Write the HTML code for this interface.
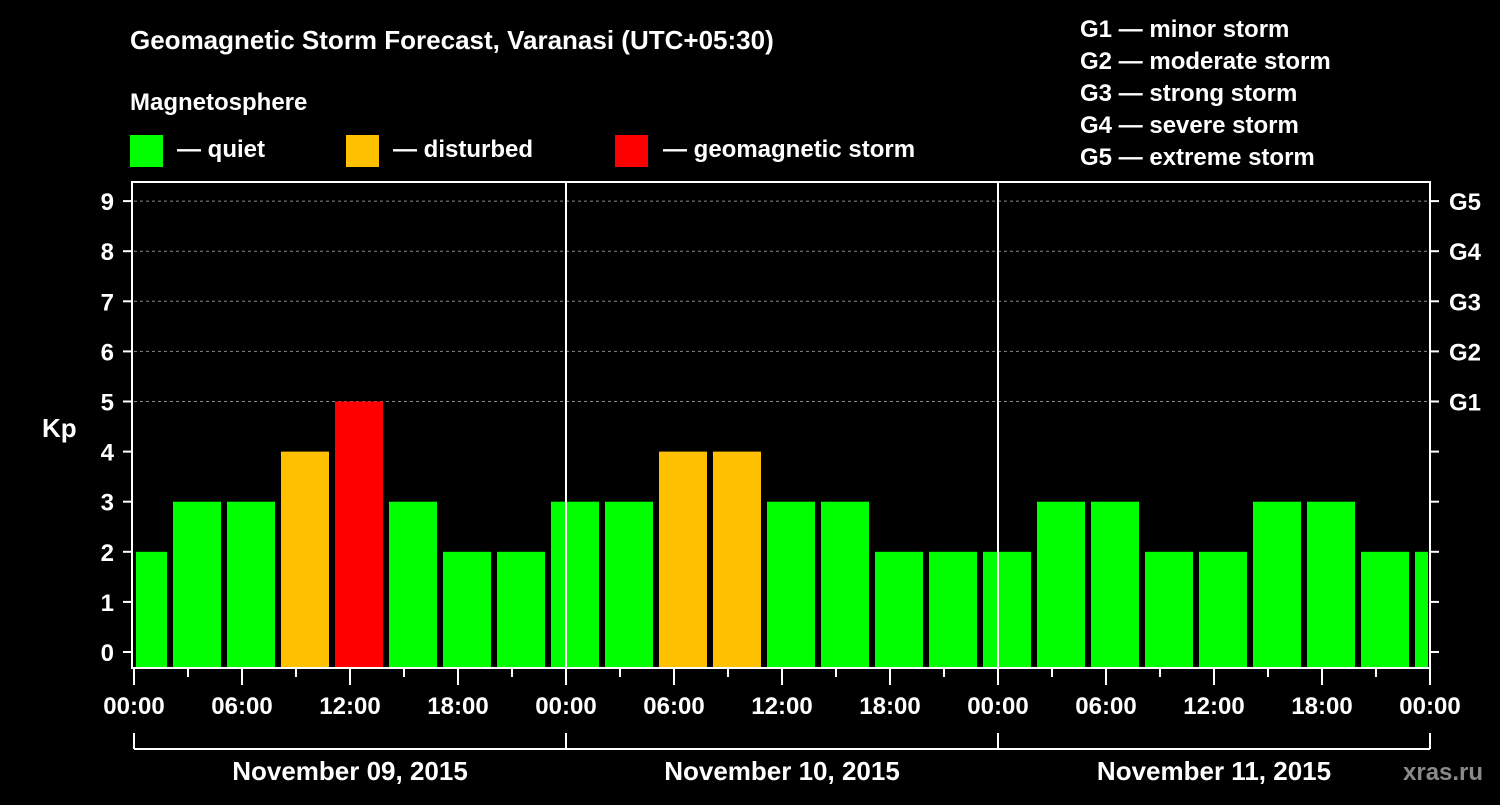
<!DOCTYPE html>
<html><head><meta charset="utf-8"><style>
body{margin:0;background:#000;width:1500px;height:800px;overflow:hidden}
text{font-family:"Liberation Sans",sans-serif;font-weight:bold;fill:#fff}
</style></head><body>
<svg id="c" width="1500" height="800">
<text x="130" y="49" font-size="26">Geomagnetic Storm Forecast, Varanasi (UTC+05:30)</text>
<text x="130" y="110" font-size="24">Magnetosphere</text>
<g><rect x="130" y="135" width="33" height="32" fill="#00ff00"/><text x="177" y="157" font-size="24">— quiet</text></g>
<g><rect x="346" y="135" width="33" height="32" fill="#ffc000"/><text x="393" y="157" font-size="24">— disturbed</text></g>
<g><rect x="615" y="135" width="33" height="32" fill="#ff0000"/><text x="663" y="157" font-size="24">— geomagnetic storm</text></g>
<g font-size="24">
<text x="1080" y="37">G1 — minor storm</text><text x="1080" y="69">G2 — moderate storm</text><text x="1080" y="101">G3 — strong storm</text><text x="1080" y="133">G4 — severe storm</text><text x="1080" y="165">G5 — extreme storm</text></g>
<text x="42" y="437" font-size="26">Kp</text>
<text x="1403" y="780" font-size="24" fill="#888" style="fill:#8a8a8a">xras.ru</text>
<g id="g"></g>
</svg>
<script>
const values=[2,3,3,4,5,3,2,2,3,3,4,4,3,3,2,2,2,3,3,2,2,3,3,2,2];
const yTicks=[0,1,2,3,4,5,6,7,8,9];
const gLabels=["G1","G2","G3","G4","G5"];
const xLabels=["00:00","06:00","12:00","18:00","00:00","06:00","12:00","18:00","00:00","06:00","12:00","18:00","00:00"];
const dates=["November 09, 2015","November 10, 2015","November 11, 2015"];
const X0=134,X1=1430,TOP=182,BOT=668;
const hx=h=>X0+h*18;
const y=v=>652-v*50.1;
const g=document.getElementById('g');
const NS="http://www.w3.org/2000/svg";
function mk(t,a,txt){const e=document.createElementNS(NS,t);for(const k in a)e.setAttribute(k,a[k]);if(txt!==undefined)e.textContent=txt;g.appendChild(e);return e;}
// grid
yTicks.forEach(v=>{if(v>=5){const l=mk('line',{x1:X0,x2:X1,y1:y(v),y2:y(v),stroke:'#888','stroke-dasharray':'3,3','stroke-width':1});}});
// bars
const clip=mk('clipPath',{id:'pc'});const cr=document.createElementNS(NS,'rect');cr.setAttribute('x',X0+2);cr.setAttribute('y',TOP);cr.setAttribute('width',X1-X0-4);cr.setAttribute('height',BOT-TOP);clip.appendChild(cr);
values.forEach((v,i)=>{const c=v>=5?'#ff0000':v>=4?'#ffc000':'#00ff00';const cx=hx(0.5+3*i);
const r=mk('rect',{x:cx-24,y:y(v),width:48,height:BOT-y(v),fill:c,'clip-path':'url(#pc)'});
});
// frame
const f=mk('rect',{x:X0-2,y:TOP,width:X1-X0+2,height:BOT-TOP,fill:'none',stroke:'#fff','stroke-width':2});

[1,2].forEach(d=>{const l=mk('line',{x1:hx(24*d),x2:hx(24*d),y1:TOP,y2:BOT,stroke:'#fff','stroke-width':2});});
// y ticks
yTicks.forEach(v=>{mk('line',{x1:X0-11,x2:X0-2,y1:y(v),y2:y(v),stroke:'#fff','stroke-width':2});mk('line',{x1:X1,x2:X1+9,y1:y(v),y2:y(v),stroke:'#fff','stroke-width':2});
const t=mk('text',{x:X0-20,y:y(v)+9,'font-size':24,'text-anchor':'end'},v);});
gLabels.forEach((s,i)=>{const t=mk('text',{x:X1+19,y:y(5+i)+9,'font-size':24},s);});
// x ticks
for(let h=0;h<=72;h+=3){const major=h%6===0;mk('line',{x1:hx(h),x2:hx(h),y1:BOT,y2:BOT+(major?17:9),stroke:'#fff','stroke-width':2});}
xLabels.forEach((s,i)=>{const t=mk('text',{x:hx(6*i),y:714,'font-size':24,'text-anchor':'middle'},s);});
// date bracket
mk('line',{x1:X0,x2:X1,y1:749,y2:749,stroke:'#fff','stroke-width':2});
[0,1,2,3].forEach(d=>mk('line',{x1:hx(24*d),x2:hx(24*d),y1:733,y2:749,stroke:'#fff','stroke-width':2}));
dates.forEach((s,i)=>{const t=mk('text',{x:hx(24*i+12),y:780,'font-size':26,'text-anchor':'middle'},s);});
</script>
</body></html>
